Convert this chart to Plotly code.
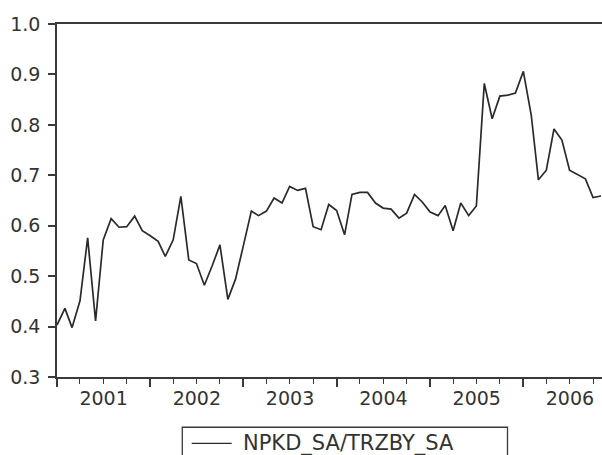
import plotly.graph_objects as go
import pandas as pd

start_month = "2001-01-01"
n_obs = 71
values = [
    0.403, 0.436, 0.398, 0.451, 0.576, 0.411, 0.572, 0.614, 0.597, 0.598, 0.619, 0.590,
    0.580, 0.569, 0.539, 0.572, 0.658, 0.532, 0.525, 0.482, 0.521, 0.562, 0.454, 0.494,
    0.561, 0.629, 0.620, 0.629, 0.655, 0.645, 0.678, 0.670, 0.674, 0.598, 0.592, 0.642,
    0.630, 0.582, 0.662, 0.666, 0.666, 0.645, 0.635, 0.633, 0.615, 0.625, 0.662, 0.647,
    0.627, 0.620, 0.640, 0.590, 0.645, 0.620, 0.639, 0.882, 0.812, 0.857, 0.859, 0.863,
    0.906, 0.819, 0.691, 0.710, 0.792, 0.770, 0.710, 0.701, 0.693, 0.656, 0.659,
]
series_name = "NPKD_SA/TRZBY_SA"
y_ticks = [0.3, 0.4, 0.5, 0.6, 0.7, 0.8, 0.9, 1.0]

dates = pd.date_range(start_month, periods=n_obs, freq="MS")

FONT = "DejaVu Sans"
FS = 19
LINE = "#2a2a2a"
AX = "#3a3a3a"
TXT = "#333333"

fig = go.Figure()
fig.add_trace(go.Scatter(x=dates, y=values, mode="lines", name=series_name,
                         line=dict(color=LINE, width=1.7), showlegend=False))

fig.update_layout(
    width=602, height=455,
    margin=dict(l=57, r=0, t=24, b=78),
    plot_bgcolor="white", paper_bgcolor="white",
    font=dict(family=FONT, size=FS, color=TXT),
    xaxis=dict(
        type="date",
        range=["2001-01-01", "2006-11-05"],
        tick0=start_month, dtick="M12", tickformat="%Y", ticklabelmode="period",
        ticks="outside", ticklen=8, tickwidth=1.5, tickcolor=AX,
        showline=True, linecolor=AX, linewidth=1.5, mirror=True,
        showgrid=False, zeroline=False, ticklabelstandoff=-5,
        minor=dict(dtick="M3", tick0=start_month, ticks="outside", ticklen=5,
                   tickwidth=1.3, tickcolor=AX, showgrid=False),
    ),
    yaxis=dict(
        range=[0.3, 1.0], tickvals=y_ticks, tickformat=".1f",
        ticks="outside", ticklen=7, tickwidth=1.5, tickcolor=AX,
        showline=True, linecolor=AX, linewidth=1.5,
        showgrid=False, zeroline=False, ticklabelstandoff=4,
    ),
)

# legend box (drawn manually, cropped at bottom like the reference)
W, H = 545.0, 352.5
def px(x): return (x - 57) / W
def py(y): return (376.5 - y) / H

fig.add_shape(type="rect", xref="paper", yref="paper",
              x0=px(182.3), x1=px(507.5), y0=py(426.7), y1=py(470),
              line=dict(color=AX, width=1.3), fillcolor="white")
fig.add_shape(type="line", xref="paper", yref="paper",
              x0=px(191.7), x1=px(231.7), y0=py(442.7), y1=py(442.7),
              line=dict(color=LINE, width=1.3))
fig.add_annotation(xref="paper", yref="paper", x=px(241), y=py(442.7),
                   xanchor="left", yanchor="middle", text=series_name,
                   showarrow=False, font=dict(family=FONT, size=21, color=TXT))

fig.write_html("out.html")
